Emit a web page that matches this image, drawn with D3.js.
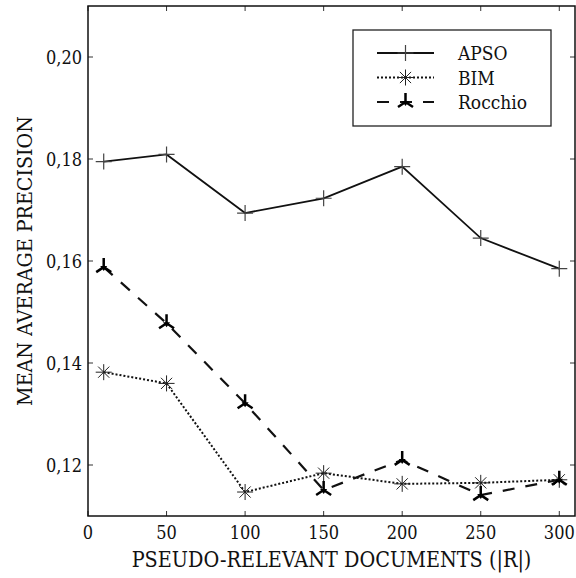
<!DOCTYPE html>
<html>
<head>
<meta charset="utf-8">
<script src="https://d3js.org/d3.v7.min.js"></script>
<style>
  body { margin: 0; background: #fff; }
  text { font-family: 'DejaVu Serif', serif; font-stretch: condensed; fill: #111; }
</style>
</head>
<body>
<script>
// data
var docs    = [10, 50, 100, 150, 200, 250, 300];
var apso    = [0.1795, 0.1809, 0.1694, 0.1723, 0.1785, 0.1645, 0.1585];
var bim     = [0.1382, 0.1360, 0.1147, 0.1184, 0.1163, 0.1165, 0.1171];
var rocchio = [0.1588, 0.1478, 0.1321, 0.1151, 0.1210, 0.1141, 0.1171];
var xTicks  = [0, 50, 100, 150, 200, 250, 300];
var yTicks  = [0.12, 0.14, 0.16, 0.18, 0.20];

var W = 576, H = 578,
    pL = 88, pR = 575, pT = 6, pB = 516,
    tk = 5;   // tick length

var svg = d3.select("body").append("svg")
  .attr("width", W)
  .attr("height", H);

var x = d3.scaleLinear().domain([0, 310]).range([pL, pR]);
var y = d3.scaleLinear().domain([0.11, 0.21]).range([pB, pT]);

var fmt = function(d){ return d3.format(".2f")(d).replace(".", ","); };

// ticks, pointing inward on all four sides
var g = svg.append("g").attr("stroke", "#333").attr("stroke-width", 1);
xTicks.forEach(function(d){
  g.append("line").attr("x1", x(d)).attr("x2", x(d)).attr("y1", pB).attr("y2", pB - tk);
  g.append("line").attr("x1", x(d)).attr("x2", x(d)).attr("y1", pT).attr("y2", pT + tk);
});
yTicks.forEach(function(d){
  g.append("line").attr("x1", pL).attr("x2", pL + tk).attr("y1", y(d)).attr("y2", y(d));
  g.append("line").attr("x1", pR).attr("x2", pR - tk).attr("y1", y(d)).attr("y2", y(d));
});

svg.append("rect")
  .attr("x", pL).attr("y", pT)
  .attr("width", pR - pL).attr("height", pB - pT)
  .attr("fill", "none").attr("stroke", "#111").attr("stroke-width", 1.5);

svg.selectAll("text.xt").data(xTicks).enter().append("text")
  .attr("class", "xt")
  .attr("x", function(d){ return x(d); })
  .attr("y", pB + 23)
  .attr("text-anchor", "middle")
  .attr("font-size", 18)
  .text(function(d){ return d; });

svg.selectAll("text.yt").data(yTicks).enter().append("text")
  .attr("class", "yt")
  .attr("x", pL - 6)
  .attr("y", function(d){ return y(d) + 7; })
  .attr("text-anchor", "end")
  .attr("font-size", 18)
  .text(fmt);

svg.append("text")
  .attr("x", (pL + pR) / 2)
  .attr("y", 567)
  .attr("text-anchor", "middle")
  .attr("font-size", 21.4)
  .text("PSEUDO-RELEVANT DOCUMENTS (|R|)");

svg.append("text")
  .attr("transform", "translate(32," + ((pT + pB) / 2) + ") rotate(-90)")
  .attr("text-anchor", "middle")
  .attr("font-size", 21.2)
  .text("MEAN AVERAGE PRECISION");

// markers
function plus(sel){
  sel.append("path").attr("d", "M-8,0H8M0,-8V8")
    .attr("stroke", "#444").attr("stroke-width", 1.2).attr("fill", "none");
}
function star(sel){
  sel.append("path").attr("d", "M-8,0H8M0,-8V8M-5.6,-5.6L5.6,5.6M-5.6,5.6L5.6,-5.6")
    .attr("stroke", "#222").attr("stroke-width", 1).attr("fill", "none");
}
function tri(sel){
  sel.append("path").attr("d", "M0,0V-9M0,0L-7.5,5M0,0L7.5,5")
    .attr("stroke", "#000").attr("stroke-width", 2.5).attr("fill", "none");
  sel.append("path").attr("d", "M-3.5,-1L3.5,-1L0,4Z").attr("fill", "#000");
}

var series = [
  {name: "APSO",    vals: apso,    dash: null,    w: 1.8, mk: plus},
  {name: "BIM",     vals: bim,     dash: "2,2",   w: 2,   mk: star},
  {name: "Rocchio", vals: rocchio, dash: "12,11", w: 2.2, mk: tri}
];

var line = d3.line()
  .x(function(d, i){ return x(docs[i]); })
  .y(function(d){ return y(d); });

series.forEach(function(s){
  svg.append("path")
    .attr("d", line(s.vals))
    .attr("fill", "none")
    .attr("stroke", "#111")
    .attr("stroke-width", s.w)
    .attr("stroke-dasharray", s.dash);
  s.vals.forEach(function(v, i){
    svg.append("g").attr("transform", "translate(" + x(docs[i]) + "," + y(v) + ")").call(s.mk);
  });
});

// legend
var lg = svg.append("g").attr("transform", "translate(353,30)");
lg.append("rect").attr("width", 198).attr("height", 96)
  .attr("fill", "#fff").attr("stroke", "#222").attr("stroke-width", 1.3);
series.forEach(function(s, i){
  var yy = 23 + i * 24.5;
  lg.append("line").attr("x1", 24).attr("x2", 81).attr("y1", yy).attr("y2", yy)
    .attr("stroke", "#111").attr("stroke-width", s.w).attr("stroke-dasharray", s.dash);
  lg.append("g").attr("transform", "translate(52.5," + yy + ")").call(s.mk);
  lg.append("text").attr("x", 105).attr("y", yy + 7)
    .attr("font-size", 19).text(s.name);
});
</script>
</body>
</html>
